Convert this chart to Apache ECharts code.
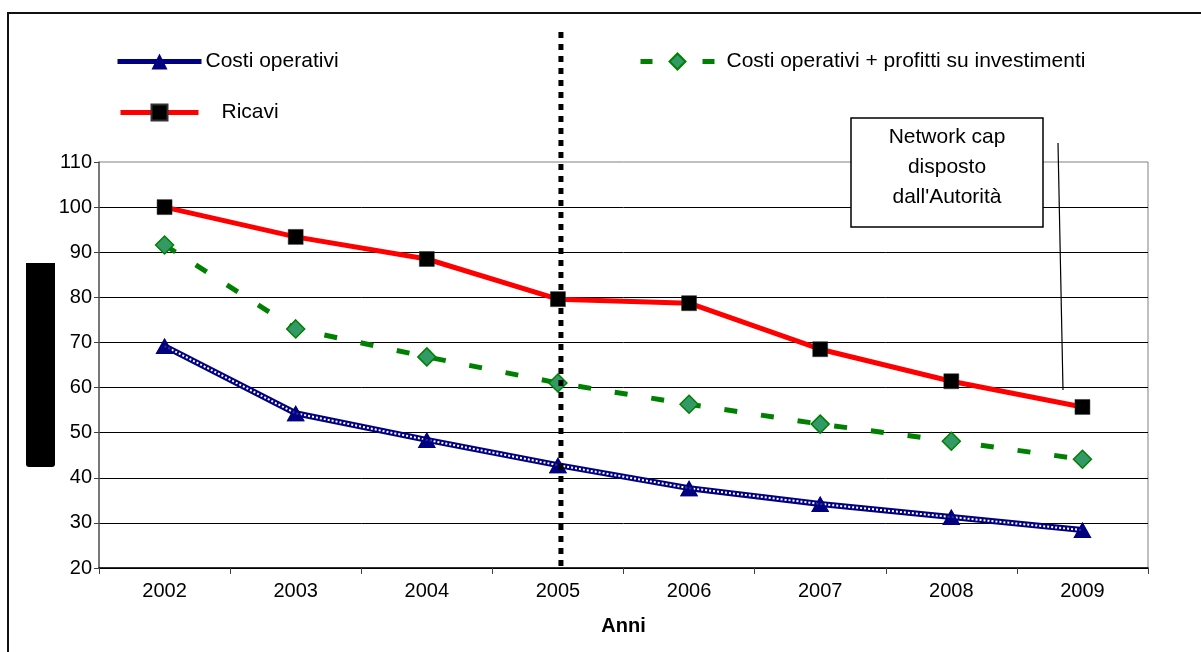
<!DOCTYPE html>
<html>
<head>
<meta charset="utf-8">
<script src="https://cdn.jsdelivr.net/npm/echarts@6/dist/echarts.min.js"></script>
<style>
  html, body { margin: 0; padding: 0; background: #ffffff; }
  #chart { width: 1201px; height: 652px; }
</style>
</head>
<body>
<div id="chart"></div>
<script>
// Anni sull'asse delle categorie
const years = ['2002', '2003', '2004', '2005', '2006', '2007', '2008', '2009'];

// Valori delle serie (indice)
const costiOperativi = [69.2, 54.3, 48.4, 42.8, 37.7, 34.2, 31.3, 28.4];
const costiPiuProfitti = [91.6, 73.0, 66.8, 61.0, 56.3, 51.9, 48.1, 44.1];
const ricavi = [100, 93.4, 88.5, 79.6, 78.7, 68.5, 61.4, 55.7];

// Scala dell'asse verticale
const yMin = 20;
const yMax = 110;
const yStep = 10;

// Anno in cui parte il network cap
const capYear = '2005';
const noteLines = ['Network cap', 'disposto', "dall'Autorità"];

const FONT = '"Liberation Sans", Arial, sans-serif';
const NAVY = '#000080';
const RED = '#ff0000';
const GREEN = '#008000';

const chart = echarts.init(document.getElementById('chart'), null, { renderer: 'canvas' });

const legendText = { fontFamily: FONT, fontSize: 21, color: '#000' };

chart.setOption({
  backgroundColor: '#ffffff',
  animation: false,
  grid: {
    left: 99, right: 53, top: 162, bottom: 84,
    show: true, borderColor: '#808080', borderWidth: 1, backgroundColor: 'transparent'
  },
  legend: [
    {
      data: ['Costi operativi'], left: 115, top: 51, padding: 0,
      itemWidth: 84, itemHeight: 20,
      textStyle: Object.assign({ padding: [0, 0, 0, -1] }, legendText),
      lineStyle: { width: 5, color: NAVY, type: 'solid' }
    },
    {
      data: ['Ricavi'], left: 118, top: 102, padding: 0,
      itemWidth: 78, itemHeight: 20,
      textStyle: Object.assign({ padding: [0, 0, 0, 18] }, legendText),
      lineStyle: { width: 5, color: RED, type: 'solid' }
    },
    {
      data: ['Costi operativi + profitti su investimenti'], left: 638, top: 51, padding: 0,
      itemWidth: 74, itemHeight: 20,
      textStyle: Object.assign({ padding: [0, 0, 0, 7] }, legendText),
      lineStyle: { width: 5, color: GREEN, type: [12, 50] }
    }
  ],
  xAxis: {
    type: 'category',
    data: years,
    boundaryGap: true,
    name: 'Anni',
    nameLocation: 'middle',
    nameGap: 48,
    nameTextStyle: { fontFamily: FONT, fontSize: 20, fontWeight: 'bold', color: '#000' },
    axisLine: { lineStyle: { color: '#000', width: 1.5 } },
    axisTick: { show: true, alignWithLabel: false, length: 6, lineStyle: { color: '#404040' } },
    axisLabel: { fontFamily: FONT, fontSize: 20, color: '#000', margin: 13 },
    splitLine: { show: false }
  },
  yAxis: {
    type: 'value',
    min: yMin, max: yMax, interval: yStep,
    axisLine: { show: true, lineStyle: { color: '#606060', width: 1.5 } },
    axisTick: { show: true, length: 5, lineStyle: { color: '#404040' } },
    axisLabel: { fontFamily: FONT, fontSize: 20, color: '#000', margin: 7 },
    splitLine: { show: true, showMaxLine: false, lineStyle: { color: '#000', width: 1 } }
  },
  series: [
    {
      name: 'Costi operativi + profitti su investimenti',
      type: 'line',
      data: costiPiuProfitti,
      z: 3,
      lineStyle: { color: GREEN, width: 5, type: [13, 24] },
      symbol: 'diamond',
      symbolSize: 18,
      itemStyle: { color: '#339966', borderColor: GREEN, borderWidth: 1.5 }
    },
    {
      name: 'Ricavi',
      type: 'line',
      data: ricavi,
      z: 4,
      lineStyle: { color: RED, width: 5 },
      symbol: 'rect',
      symbolSize: 15,
      itemStyle: { color: '#000', borderColor: '#333', borderWidth: 0.5 }
    },
    {
      name: 'Costi operativi',
      type: 'line',
      data: costiOperativi,
      z: 5,
      lineStyle: { color: NAVY, width: 6 },
      symbol: 'triangle',
      symbolSize: [18, 16],
      itemStyle: { color: NAVY }
    },
    {
      // filo bianco puntinato dentro la linea blu
      name: 'Costi operativi (filo)',
      type: 'line',
      data: costiOperativi,
      z: 6,
      silent: true,
      showSymbol: false,
      lineStyle: { color: '#ffffff', width: 2, type: [2, 2] }
    },
    {
      // triangoli sopra il filo bianco
      name: 'Costi operativi (marcatori)',
      type: 'scatter',
      data: costiOperativi,
      z: 7,
      silent: true,
      symbol: 'triangle',
      symbolSize: [18, 16],
      itemStyle: { color: NAVY }
    }
  ]
});

// Elementi grafici: cornice, linea verticale del cap, riquadro di nota
const capX = chart.convertToPixel({ xAxisIndex: 0 }, capYear);
const baseY = chart.convertToPixel({ yAxisIndex: 0 }, yMin);

chart.setOption({
  graphic: [
    {
      type: 'polyline', silent: true, z: 1,
      shape: { points: [[8, 652], [8, 13], [1201, 13]] },
      style: { stroke: '#111', lineWidth: 2, fill: null }
    },
    {
      type: 'rect', silent: true, z: 10,
      shape: { x: 26, y: 263, width: 29, height: 204, r: [0, 0, 3, 3] },
      style: { fill: '#000' }
    },
    {
      type: 'line', silent: true, z: 8,
      shape: { x1: capX + 3, y1: 32, x2: capX + 3, y2: baseY },
      style: { stroke: '#000', lineWidth: 5, lineDash: [6, 6] }
    },
    {
      type: 'line', silent: true, z: 9,
      shape: { x1: 1058, y1: 143, x2: 1063, y2: 390 },
      style: { stroke: '#000', lineWidth: 1.2 }
    },
    {
      type: 'rect', silent: true, z: 9,
      shape: { x: 851, y: 118, width: 192, height: 109 },
      style: { fill: '#fff', stroke: '#000', lineWidth: 1.5 }
    },
    {
      type: 'text', silent: true, z: 10,
      x: 947, y: 122,
      style: {
        text: noteLines.join('\n'),
        font: '21px ' + FONT,
        fill: '#000',
        align: 'center',
        verticalAlign: 'top',
        lineHeight: 30
      }
    }
  ]
});
</script>
</body>
</html>
